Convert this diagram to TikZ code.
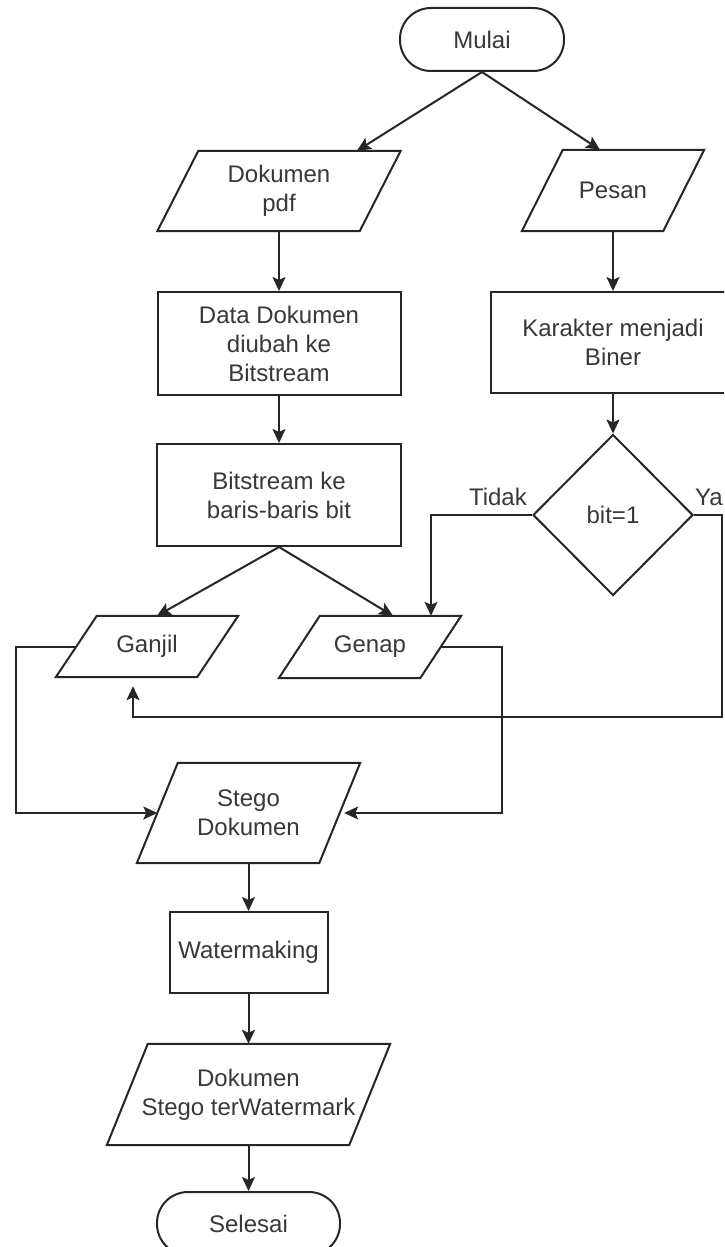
\documentclass[tikz,border=0pt]{standalone}
\usepackage{fontspec}
\setmainfont{Liberation Sans}
\usetikzlibrary{shapes.geometric,arrows.meta,calc}
\definecolor{ln}{HTML}{262626}
\definecolor{tx}{HTML}{383838}
\newcommand\paraoutline[1]{%
  \draw[shapeline] (#1.south west) -- ([xshift=41pt]#1.north west) -- (#1.north east) -- ([xshift=-41pt]#1.south east) -- cycle;}
\begin{document}
\begin{tikzpicture}[x=1pt,y=-1pt,
  txt/.style={text=tx, align=center, inner sep=0pt, font=\fontsize{24}{29}\selectfont},
  shapeline/.style={draw=ln, line width=2pt},
  box/.style={txt, shapeline, fill=white},
  term/.style={box, rounded corners=31pt},
  para/.style={txt},
  decis/.style={txt, shapeline, diamond, shape aspect=1},
  arr/.style={draw=ln, line width=2pt, -{Stealth[length=14pt,width=13pt,inset=3pt]}},
  lbl/.style={txt}]
\path[use as bounding box] (0,0) rectangle (724,1247);
\clip (0,0) rectangle (724,1247);
\fill[white] (0,0) rectangle (724,1247);

% nodes
\node[term, minimum width=164pt, minimum height=63pt] (mulai) at (482,39.5) {Mulai};
\node[para, minimum width=243pt, minimum height=80pt] (dok) at (279,191) {Dokumen\\pdf};
\paraoutline{dok}
\node[para, minimum width=182pt, minimum height=81pt] (pesan) at (613,190.5) {Pesan};
\paraoutline{pesan}
\node[box, minimum width=243pt, minimum height=103pt] (data) at (279,343.5) {Data Dokumen\\diubah ke\\Bitstream};
\node[box, minimum width=244pt, minimum height=101pt] (kar) at (613,342.5) {Karakter menjadi\\Biner};
\node[decis, minimum width=160pt, minimum height=161pt] (dia) at (613,515) {bit=1};
\node[box, minimum width=244pt, minimum height=102pt] (bits) at (279,495) {Bitstream ke\\baris-baris bit};
\node[para, minimum width=182pt, minimum height=61pt] (ganjil) at (147,646.5) {Ganjil};
\paraoutline{ganjil}
\node[para, minimum width=182pt, minimum height=62pt] (genap) at (370,647) {Genap};
\paraoutline{genap}
\node[para, minimum width=223pt, minimum height=100pt] (stego) at (248.5,813) {Stego\\Dokumen};
\paraoutline{stego}
\node[box, minimum width=158pt, minimum height=81pt] (water) at (248.5,952.5) {Watermaking};
\node[para, minimum width=283pt, minimum height=101pt] (dst) at (248.5,1094.5) {Dokumen\\Stego terWatermark};
\paraoutline{dst}
\node[term, minimum width=183pt, minimum height=63pt] (selesai) at (248.5,1223.5) {Selesai};

% labels
\node[lbl, anchor=east] (tidak) at (527,497) {Tidak};
\node[lbl, anchor=west] (ya) at (695,497) {Ya};

% helper coordinates
\coordinate (yaR) at (722,717);
\coordinate (gl) at (16,813);
\coordinate (gr) at (502,813);

% connectors
\draw[arr] (mulai.south) -- ([xshift=78pt]dok.north);
\draw[arr] (mulai.south) -- ([xshift=-13pt]pesan.north);
\draw[arr] (dok.south) -- (data.north);
\draw[arr] (data.south) -- (bits.north);
\draw[arr] (pesan.south) -- (kar.north);
\draw[arr] (kar.south) -- (dia.north);
\draw[arr] (bits.south) -- ([xshift=10pt]ganjil.north);
\draw[arr] (bits.south) -- ([xshift=23pt]genap.north);
\draw[arr] (dia.west) -| ([xshift=61pt]genap.north);
\draw[arr] (dia.east) -| (yaR) -| ([xshift=-14pt,yshift=-9pt]ganjil.south);
\draw[arr] ([xshift=20.5pt]ganjil.west) -| (gl) -- ([xshift=20.5pt]stego.west);
\draw[arr] ([xshift=-20.5pt]genap.east) -| (gr) -- ([xshift=-16pt]stego.east);
\draw[arr] (stego.south) -- (water.north);
\draw[arr] (water.south) -- (dst.north);
\draw[arr] (dst.south) -- (selesai.north);
\end{tikzpicture}
\end{document}
